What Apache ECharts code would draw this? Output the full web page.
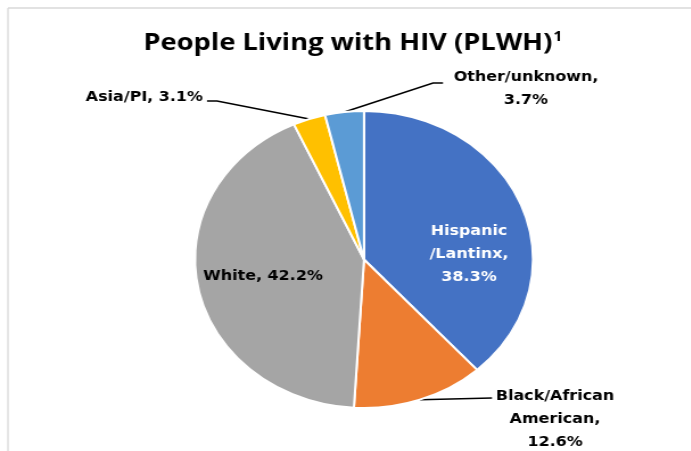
<!DOCTYPE html>
<html>
<head>
<meta charset="utf-8">
<script src="https://cdn.jsdelivr.net/npm/echarts@6/dist/echarts.min.js"></script>
<style>
  html, body { margin: 0; padding: 0; background: #fff; overflow: hidden; }
  #wrap { width: 691px; height: 451px; overflow: hidden; position: relative; }
  #chart { height: 451px; position: absolute; left: 0; top: 0; transform-origin: 0 0; }
</style>
</head>
<body>
<div id="wrap"><div id="chart"></div></div>
<script>
// Race/ethnicity breakdown of people living with HIV (percent)
const categories = ['Hispanic/Lantinx', 'Black/African American', 'White', 'Asia/PI', 'Other/unknown'];
const percents = [38.3, 12.6, 42.2, 3.1, 3.7];
const colors = ['#4472C4', '#ED7D31', '#A5A5A5', '#FFC000', '#5B9BD5'];
const titleText = 'People Living with HIV (PLWH)';
const titleNote = '1';

// The whole chart is drawn slightly wide: everything is laid out in a
// narrower box and stretched horizontally by STRETCH.
const STRETCH = 1.138;
const PAGE_W = 691, PAGE_H = 451;
const W = PAGE_W / STRETCH;
const sx = x => x / STRETCH;   // page x -> chart x

const PIE = { cx: 364, cy: 259.5, r: 148.5 };

// Label placement (page pixels) and wrapped text for each slice.
const LABELS = {
  'Hispanic/Lantinx':       { text: 'Hispanic\n/Lantinx,\n{v}%', x: 469, y: 254, align: 'center', inside: true, color: '#fff' },
  'Black/African American': { text: 'Black/African\nAmerican,\n{v}%', x: 555, y: 419, align: 'center', line: [[492, 398], [492, 398]] },
  'White':                  { text: 'White, {v}%', x: 263, y: 276, align: 'center', inside: true },
  'Asia/PI':                { text: 'Asia/PI, {v}%', x: 203, y: 97, align: 'right', line: [[217, 101], [207, 101]] },
  'Other/unknown':          { text: 'Other/unknown,\n{v}%', x: 526, y: 89, align: 'center', line: [[433, 83], [443, 83]] }
};

const el = document.getElementById('chart');
el.style.width = W + 'px';
el.style.transform = 'scaleX(' + STRETCH + ')';

const chart = echarts.init(el, null, { renderer: 'canvas' });

const data = categories.map((name, i) => {
  const cfg = LABELS[name];
  return {
    name: name,
    value: percents[i],
    itemStyle: { color: colors[i] },
    label: {
      position: cfg.inside ? 'inside' : 'outside',
      color: cfg.color || '#000'
    },
    labelLine: { show: !cfg.inside }
  };
});

const option = {
  animation: false,
  backgroundColor: '#fff',
  graphic: [
    // chart frame
    { type: 'line', shape: { x1: sx(8), y1: 8, x2: W + 2, y2: 8 }, style: { stroke: '#D9D9D9', lineWidth: 1.5 } },
    { type: 'line', shape: { x1: sx(8), y1: 8, x2: sx(8), y2: PAGE_H + 2 }, style: { stroke: '#D9D9D9', lineWidth: 1.3 } },
    {
      type: 'text',
      x: sx(353), y: 43,
      style: {
        text: '{t|' + titleText + '}{s|' + titleNote + '}',
        align: 'center', verticalAlign: 'middle',
        rich: {
          t: { fontFamily: 'Open Sans', fontWeight: 'bold', fontSize: 24, fill: '#000', color: '#000' },
          s: { fontFamily: 'Open Sans', fontWeight: 'bold', fontSize: 14, fill: '#000', color: '#000', padding: [0, 0, 12, 1] }
        }
      }
    }
  ],
  series: [{
    type: 'pie',
    center: [sx(PIE.cx), PIE.cy],
    radius: PIE.r,
    startAngle: 90,
    clockwise: true,
    avoidLabelOverlap: false,
    itemStyle: { borderColor: '#fff', borderWidth: 2 },
    label: {
      fontFamily: 'DejaVu Sans',
      fontWeight: 'bold',
      fontSize: 14,
      lineHeight: 23,
      formatter: p => LABELS[p.name].text.replace('{v}', p.value.toFixed(1))
    },
    labelLine: { lineStyle: { color: '#000', width: 1.5 } },
    labelLayout: p => {
      const cfg = LABELS[categories[p.dataIndex]];
      const out = { x: sx(cfg.x), y: cfg.y, align: cfg.align, verticalAlign: 'middle' };
      if (cfg.line && p.labelLinePoints) {
        out.labelLinePoints = [
          p.labelLinePoints[0],
          [sx(cfg.line[0][0]), cfg.line[0][1]],
          [sx(cfg.line[1][0]), cfg.line[1][1]]
        ];
      }
      return out;
    },
    data: data
  }]
};

chart.setOption(option);
</script>
</body>
</html>
